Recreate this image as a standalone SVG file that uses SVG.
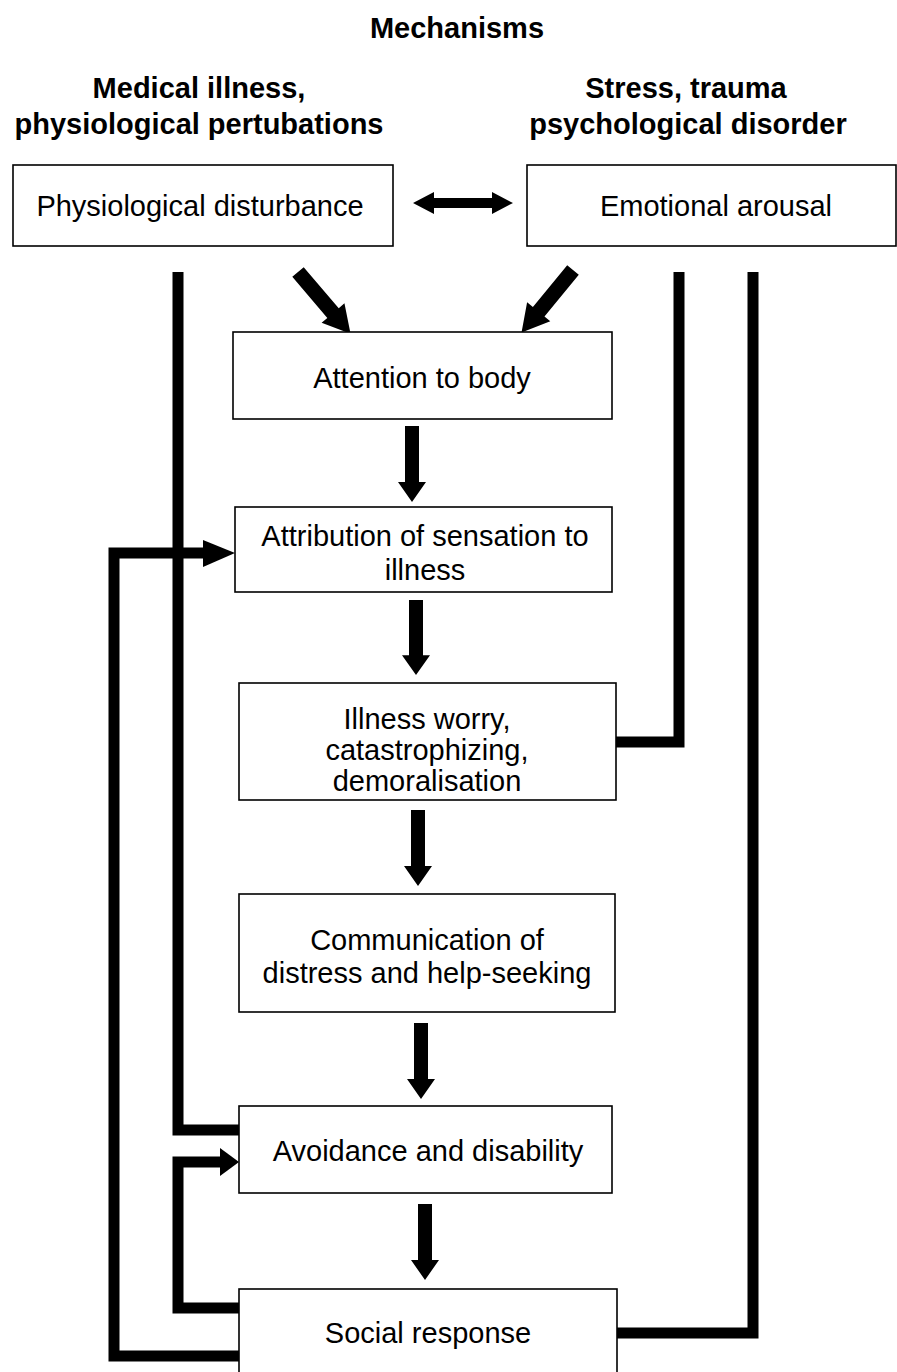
<svg xmlns="http://www.w3.org/2000/svg" width="897" height="1372" viewBox="0 0 897 1372">
<style>
.box{fill:#fff;stroke:#000;stroke-width:1.6}
.t{font-family:"Liberation Sans",Arial,sans-serif;font-size:29px;fill:#000;text-anchor:middle}
.h{font-family:"Liberation Sans",Arial,sans-serif;font-size:29px;font-weight:bold;fill:#000;text-anchor:middle}
.ln{fill:none;stroke:#000;stroke-width:11;stroke-linejoin:miter;stroke-linecap:butt}
.ah{fill:#000;stroke:none}
</style>
<defs>
<polygon id="down" points="-7,0 7,0 7,56 14,56 0,76 -14,56 -7,56"/>
<polygon id="diag" points="0,-7.5 54,-7.5 54,-15 81,0 54,15 54,7.5 0,7.5"/>
</defs>
<g id="headings">
<text class="h" x="457" y="38">Mechanisms</text>
<text class="h" x="199" y="98">Medical illness,</text>
<text class="h" x="199" y="134">physiological pertubations</text>
<text class="h" x="686" y="98">Stress, trauma</text>
<text class="h" x="688" y="134">psychological disorder</text>
</g>
<g id="connectors">
<polygon class="ah" points="413,203 434,192 434,198 492,198 492,192 513,203 492,214 492,208 434,208 434,214"/>
<use href="#diag" class="ah" transform="translate(298,272) rotate(49.55)"/>
<use href="#diag" class="ah" transform="translate(573,270) rotate(129.44)"/>
<use href="#down" class="ah" transform="translate(412,426)"/>
<use href="#down" class="ah" transform="translate(416,600) scale(1,0.987)"/>
<use href="#down" class="ah" transform="translate(418,810)"/>
<use href="#down" class="ah" transform="translate(421,1023)"/>
<use href="#down" class="ah" transform="translate(425,1204)"/>
<path class="ln" d="M178,272 V1130 H240"/>
<path class="ln" d="M679,272 V742 H616"/>
<path class="ln" d="M753,272 V1333 H617"/>
<path class="ln" d="M240,1356 H114 V553 H206"/>
<polygon class="ah" points="203,540 235,553 203,567"/>
<path class="ln" d="M240,1308 H178 V1162 H222"/>
<polygon class="ah" points="220,1148 239,1162 220,1176"/>
</g>
<g id="n1"><rect class="box" x="13" y="165" width="380" height="81"/><text class="t" x="200" y="216">Physiological disturbance</text></g>
<g id="n2"><rect class="box" x="527" y="165" width="369" height="81"/><text class="t" x="716" y="216">Emotional arousal</text></g>
<g id="n3"><rect class="box" x="233" y="332" width="379" height="87"/><text class="t" x="422" y="388">Attention to body</text></g>
<g id="n4"><rect class="box" x="235" y="507" width="377" height="85"/><text class="t" x="425" y="546">Attribution of sensation to</text><text class="t" x="425" y="580">illness</text></g>
<g id="n5"><rect class="box" x="239" y="683" width="377" height="117"/><text class="t" x="427" y="729">Illness worry,</text><text class="t" x="427" y="760">catastrophizing,</text><text class="t" x="427" y="791">demoralisation</text></g>
<g id="n6"><rect class="box" x="239" y="894" width="376" height="118"/><text class="t" x="427" y="950">Communication of</text><text class="t" x="427" y="983">distress and help-seeking</text></g>
<g id="n7"><rect class="box" x="239" y="1106" width="373" height="87"/><text class="t" x="428" y="1161">Avoidance and disability</text></g>
<g id="n8"><rect class="box" x="239" y="1289" width="378" height="100"/><text class="t" x="428" y="1343">Social response</text></g>
</svg>
